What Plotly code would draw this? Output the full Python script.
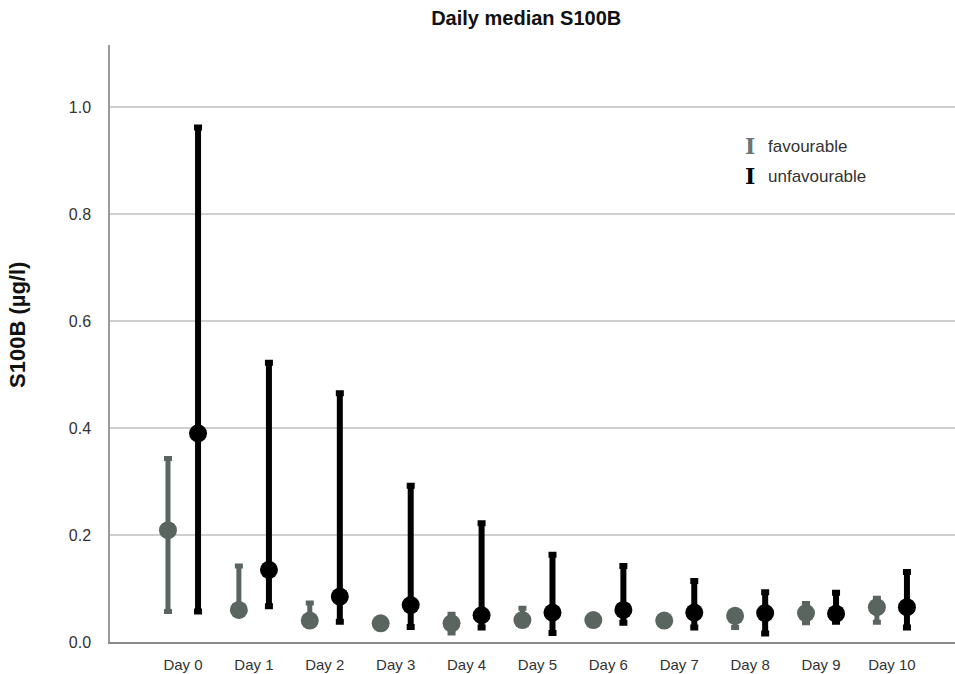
import plotly.graph_objects as go

days = ["Day 0", "Day 1", "Day 2", "Day 3", "Day 4", "Day 5", "Day 6", "Day 7", "Day 8", "Day 9", "Day 10"]

fav_median = [0.209, 0.060, 0.040, 0.035, 0.035, 0.041, 0.041, 0.040, 0.049, 0.054, 0.065]
fav_low    = [0.057, 0.055, 0.036, 0.032, 0.017, 0.035, 0.038, 0.037, 0.027, 0.036, 0.037]
fav_high   = [0.343, 0.142, 0.073, 0.038, 0.052, 0.063, 0.044, 0.043, 0.055, 0.072, 0.082]

unf_median = [0.390, 0.135, 0.085, 0.069, 0.050, 0.055, 0.060, 0.055, 0.054, 0.053, 0.065]
unf_low    = [0.057, 0.067, 0.038, 0.028, 0.027, 0.017, 0.036, 0.027, 0.016, 0.038, 0.027]
unf_high   = [0.962, 0.522, 0.465, 0.292, 0.222, 0.163, 0.142, 0.114, 0.093, 0.092, 0.131]

FAV_COLOR = "#5a655f"
UNF_COLOR = "#000000"
offset = 0.212
idx = list(range(len(days)))

fig = go.Figure()
fig.add_trace(go.Scatter(
    x=[i - offset for i in idx], y=fav_median, mode="markers", name="favourable",
    marker=dict(size=18, color=FAV_COLOR),
    error_y=dict(type="data", symmetric=False,
                 array=[h - m for h, m in zip(fav_high, fav_median)],
                 arrayminus=[m - l for m, l in zip(fav_median, fav_low)],
                 color=FAV_COLOR, thickness=5, width=4),
    showlegend=False))
fig.add_trace(go.Scatter(
    x=[i + offset for i in idx], y=unf_median, mode="markers", name="unfavourable",
    marker=dict(size=18, color=UNF_COLOR),
    error_y=dict(type="data", symmetric=False,
                 array=[h - m for h, m in zip(unf_high, unf_median)],
                 arrayminus=[m - l for m, l in zip(unf_median, unf_low)],
                 color=UNF_COLOR, thickness=6, width=4),
    showlegend=False))

fig.update_layout(
    width=955, height=674,
    margin=dict(l=110, r=0, t=45, b=32),
    paper_bgcolor="white", plot_bgcolor="white",
    font=dict(family="Liberation Sans, Arial, sans-serif", color="#333333"),
    title=dict(text="<b>Daily median S100B</b>", x=0.551, xanchor="center",
               y=0.973, yanchor="middle", font=dict(size=20, color="#111111")),
    xaxis=dict(range=[-1.03, 10.89], tickmode="array", tickvals=idx, ticktext=days,
               showgrid=False, zeroline=False, showline=True, linecolor="#8a8a8a",
               linewidth=2, ticks="", ticklabelstandoff=8,
               tickfont=dict(size=15, color="#333333")),
    yaxis=dict(range=[0, 1.116], tickmode="array", tickvals=[0, 0.2, 0.4, 0.6, 0.8, 1.0],
               ticktext=["0.0", "0.2", "0.4", "0.6", "0.8", "1.0"],
               showgrid=True, gridcolor="#cfcfcf", gridwidth=1.5, zeroline=False,
               showline=True, linecolor="#9a9a9a", linewidth=1.5, ticks="",
               ticklabelstandoff=14, tickfont=dict(size=16, color="#333333")),
)

fig.add_annotation(xref="paper", yref="paper", x=0, xshift=-92, y=0.531,
                   xanchor="center", yanchor="middle", showarrow=False, textangle=-90,
                   text="<b>S100B (µg/l)</b>", font=dict(size=22, color="#111111"))

legend_items = [("favourable", "#6a7670", 0.83), ("unfavourable", UNF_COLOR, 0.78)]
for label, col, ypos in legend_items:
    fig.add_annotation(xref="paper", yref="paper", x=0.757, y=ypos, xanchor="center",
                       yanchor="middle", showarrow=False,
                       text="<b>I</b>", font=dict(family="DejaVu Serif", size=22, color=col))
    fig.add_annotation(xref="paper", yref="paper", x=0.776, y=ypos, xanchor="left",
                       yanchor="middle", showarrow=False,
                       text=label, font=dict(size=17, color="#333333"))

fig.write_html("out.html")
